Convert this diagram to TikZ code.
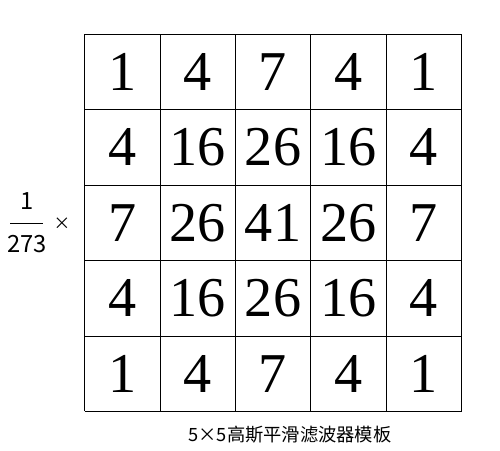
\documentclass[tikz,border=0pt]{standalone}
\usepackage{fontspec}
\usepackage{tikz}
\newfontfamily\numfont{Liberation Serif}
\newfontfamily\cjk{Noto Sans CJK SC}

\begin{document}
\begin{tikzpicture}[
	num/.style={inner sep=0pt, font=\numfont\fontsize{32}{32}\selectfont},
	lab/.style={inner sep=0pt, font=\cjk\fontsize{13.5}{13.5}\selectfont}]

\useasboundingbox (0,0) rectangle (10,9);

\coordinate (tl) at (1.69,8.314) {};
\coordinate (tr) at (9.23,8.314) {};
\coordinate (bl) at (1.69,0.774) {};
\coordinate (br) at (9.23,0.774) {};

%outer lines
\draw [thin]	(tl)--(tr); 	 %top
\draw [thin]	(bl)--(br);	 %bottom
\draw [thin]	(tl)--(bl);	 %left
\draw [thin]	(tr)--(br);	 %right
%
\draw [thin]	(3.198,8.314)--(3.198,0.774);
\draw [thin]	(4.706,8.314)--(4.706,0.774);
\draw [thin]	(6.214,8.314)--(6.214,0.774);
\draw [thin]	(7.722,8.314)--(7.722,0.774);
%
\draw [thin]	(1.69,6.806)--(9.23,6.806);
\draw [thin]	(1.69,5.298)--(9.23,5.298);
\draw [thin]	(1.69,3.790)--(9.23,3.790);
\draw [thin]	(1.69,2.282)--(9.23,2.282);

%row 1
\node[num] (a11) at (2.444,7.560) {1};
\node[num] (a12) at (3.952,7.560) {4};
\node[num] (a13) at (5.460,7.560) {7};
\node[num] (a14) at (6.968,7.560) {4};
\node[num] (a15) at (8.476,7.560) {1};
%row 2
\node[num] (a21) at (2.444,6.052) {4};
\node[num] (a22) at (3.952,6.052) {16};
\node[num] (a23) at (5.460,6.052) {26};
\node[num] (a24) at (6.968,6.052) {16};
\node[num] (a25) at (8.476,6.052) {4};
%row 3
\node[num] (a31) at (2.444,4.544) {7};
\node[num] (a32) at (3.952,4.544) {26};
\node[num] (a33) at (5.460,4.544) {41};
\node[num] (a34) at (6.968,4.544) {26};
\node[num] (a35) at (8.476,4.544) {7};
%row 4
\node[num] (a41) at (2.444,3.036) {4};
\node[num] (a42) at (3.952,3.036) {16};
\node[num] (a43) at (5.460,3.036) {26};
\node[num] (a44) at (6.968,3.036) {16};
\node[num] (a45) at (8.476,3.036) {4};
%row 5
\node[num] (a51) at (2.444,1.528) {1};
\node[num] (a52) at (3.952,1.528) {4};
\node[num] (a53) at (5.460,1.528) {7};
\node[num] (a54) at (6.968,1.528) {4};
\node[num] (a55) at (8.476,1.528) {1};

%factor
\coordinate (fl) at (0.20,4.54) {};
\coordinate (fr) at (0.86,4.54) {};
\draw [thin]	(fl)--(fr);	 %fraction bar
\node[lab] (fnum) at (0.54,4.98) {1};
\node[lab] (fden) at (0.54,4.11) {273};
\node[inner sep=0pt, font=\cjk\fontsize{9.5}{9.5}\selectfont] (times) at (1.24,4.52) {×};

%labels
\node[inner sep=0pt, font=\cjk\fontsize{10.4}{10.4}\selectfont] (title) at (5.80,0.30) {5×5高斯平滑滤波器模板};

\end{tikzpicture}
\end{document}
